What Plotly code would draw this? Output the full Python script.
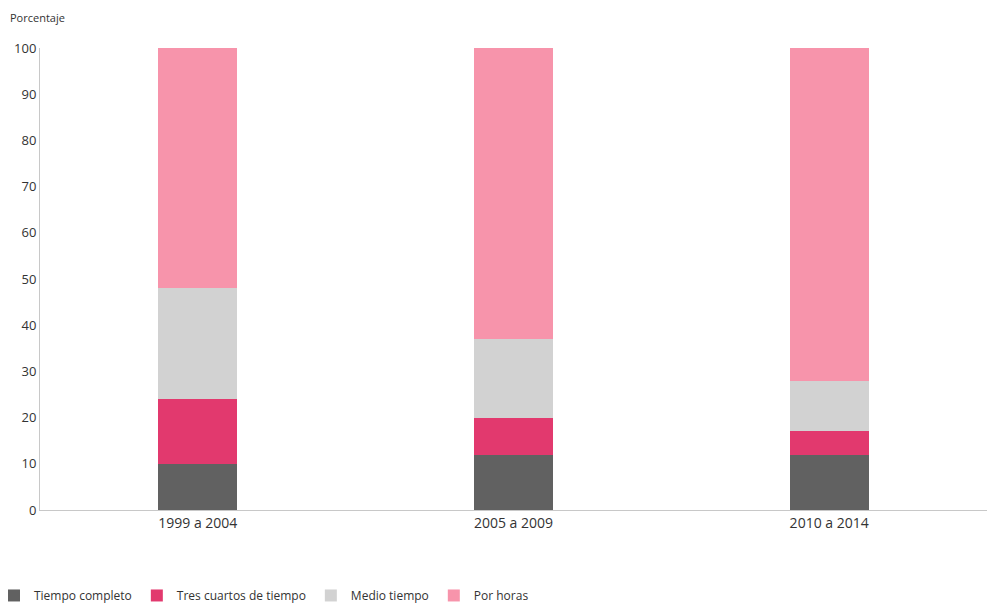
import plotly.graph_objects as go

categories = ["1999 a 2004", "2005 a 2009", "2010 a 2014"]
tiempo_completo = [10, 12, 12]
tres_cuartos = [14, 8, 5]
medio_tiempo = [24, 17, 11]
por_horas = [52, 63, 72]
y_ticks = list(range(0, 101, 10))

series = [
    ("Tiempo completo", tiempo_completo, "#616161"),
    ("Tres cuartos de tiempo", tres_cuartos, "#e2396e"),
    ("Medio tiempo", medio_tiempo, "#d2d2d2"),
    ("Por horas", por_horas, "#f794ab"),
]

fig = go.Figure()
for name, vals, color in series:
    fig.add_trace(go.Bar(x=categories, y=vals, name=name, marker_color=color,
                         marker_line_width=0, width=0.25))

fig.update_layout(
    barmode="stack",
    width=981, height=602,
    margin=dict(l=32, r=2, t=40, b=100, autoexpand=False),
    plot_bgcolor="white", paper_bgcolor="white",
    font=dict(family="Open Sans, Noto Sans, sans-serif", size=13, color="#333333"),
    xaxis=dict(showline=True, linecolor="#c8c8c8", linewidth=1, ticks="",
               showgrid=False, tickfont=dict(size=14), automargin=False),
    yaxis=dict(range=[0, 100], tickvals=y_ticks, showline=True, linecolor="#c8c8c8",
               linewidth=1, showgrid=False, zeroline=False, ticks="",
               tickfont=dict(size=13), automargin=False),
    legend=dict(orientation="h", x=-0.0486, xanchor="left", y=-0.185, yanchor="middle",
                font=dict(size=12), traceorder="normal", itemwidth=30),
    showlegend=True,
    annotations=[dict(text="Porcentaje", xref="paper", yref="paper", x=-0.0338, y=1.065,
                      xanchor="left", yanchor="middle", showarrow=False,
                      font=dict(size=11, color="#333333"))],
)

fig.write_html("out.html")
